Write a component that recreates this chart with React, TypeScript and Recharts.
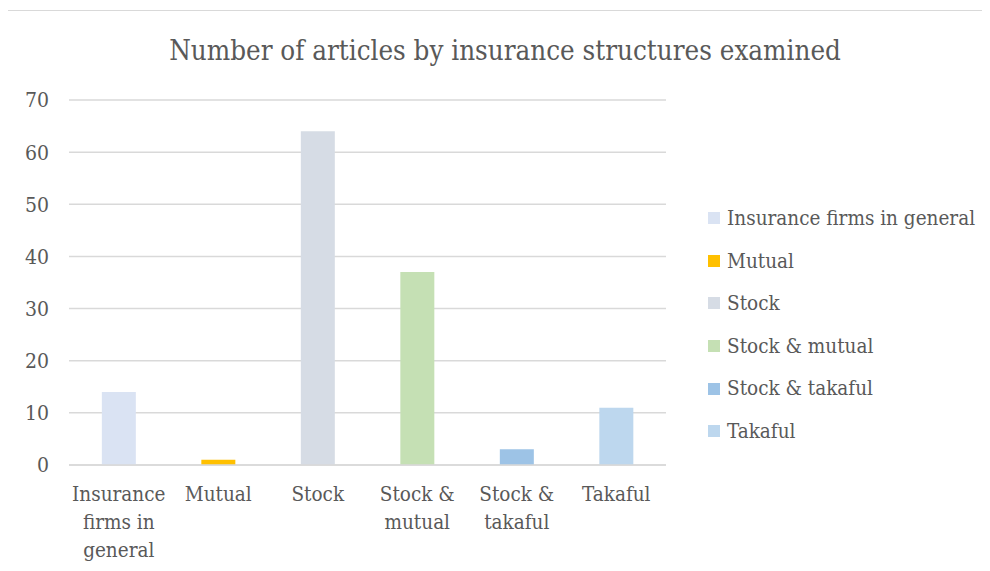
import React from 'react';
import { BarChart, Bar, XAxis, YAxis, CartesianGrid, Cell } from 'recharts';

const categories = ['Insurance firms in general', 'Mutual', 'Stock', 'Stock & mutual', 'Stock & takaful', 'Takaful'];
const categoryLines = [['Insurance', 'firms in', 'general'], ['Mutual'], ['Stock'], ['Stock &', 'mutual'], ['Stock &', 'takaful'], ['Takaful']];
const articleCounts = [14, 1, 64, 37, 3, 11];
const barColors = ['#DAE3F3', '#FFC000', '#D6DCE5', '#C5E0B4', '#9DC3E6', '#BDD7EE'];
const yTicks = [0, 10, 20, 30, 40, 50, 60, 70];
const title = 'Number of articles by insurance structures examined';

const data = categories.map((c, i) => ({ name: c, value: articleCounts[i] }));

const TEXT = '#595959';
const FONT = '"DejaVu Serif Condensed", "DejaVu Serif", serif';
const fontStyle: React.CSSProperties = { fontFamily: FONT, fontStretch: 'condensed' };

const XTick = (props: any) => {
  const { x, y, index } = props;
  const lines = categoryLines[index] || [String(props.payload.value)];
  return (
    <g>
      {lines.map((l: string, i: number) => (
        <text key={i} x={x} y={y + 28 + i * 28} textAnchor="middle" fill={TEXT} fontSize={20.5} style={fontStyle}>
          {l}
        </text>
      ))}
    </g>
  );
};

const ChartLegend = () => (
  <div style={{ position: 'absolute', left: 708, top: 197, ...fontStyle, fontSize: 20.5, color: TEXT }}>
    {categories.map((c, i) => (
      <div key={c} style={{ display: 'flex', alignItems: 'center', height: 42.6 }}>
        <div style={{ width: 12, height: 12, background: barColors[i], marginRight: 7 }} />
        <span style={{ whiteSpace: 'nowrap', lineHeight: 1 }}>{c}</span>
      </div>
    ))}
  </div>
);

export default function App() {
  return (
    <div style={{ position: 'relative', width: 990, height: 571, margin: -8, overflow: 'hidden', background: '#fff' }}>
      <div style={{ position: 'absolute', left: 6, top: 10, width: 1100, height: 700, borderLeft: '2px solid #d9d9d9', borderTop: '1.5px solid #d9d9d9' }} />
      <div style={{ position: 'absolute', left: 0, top: 37, width: 1010, textAlign: 'center', ...fontStyle, fontSize: 27.5, lineHeight: 1, color: TEXT, whiteSpace: 'nowrap' }}>
        {title}
      </div>
      <div style={{ position: 'absolute', left: 0, top: 0 }}>
        <BarChart width={990} height={571} data={data} margin={{ top: 100, right: 324, bottom: 0, left: 0 }} barCategoryGap="33%">
          <CartesianGrid vertical={false} stroke="#d9d9d9" strokeWidth={1.5} />
          <XAxis dataKey="name" axisLine={{ stroke: '#d9d9d9', strokeWidth: 1.5 }} tickLine={false} tick={<XTick />} interval={0} height={106} />
          <YAxis width={69} domain={[0, 70]} ticks={yTicks} axisLine={false} tickLine={false} tickSize={0} tickMargin={20}
            tick={{ fill: TEXT, fontSize: 21, style: fontStyle }} />
          <Bar dataKey="value" isAnimationActive={false}>
            {data.map((d, i) => (
              <Cell key={d.name} fill={barColors[i]} />
            ))}
          </Bar>
        </BarChart>
      </div>
      <ChartLegend />
    </div>
  );
}
